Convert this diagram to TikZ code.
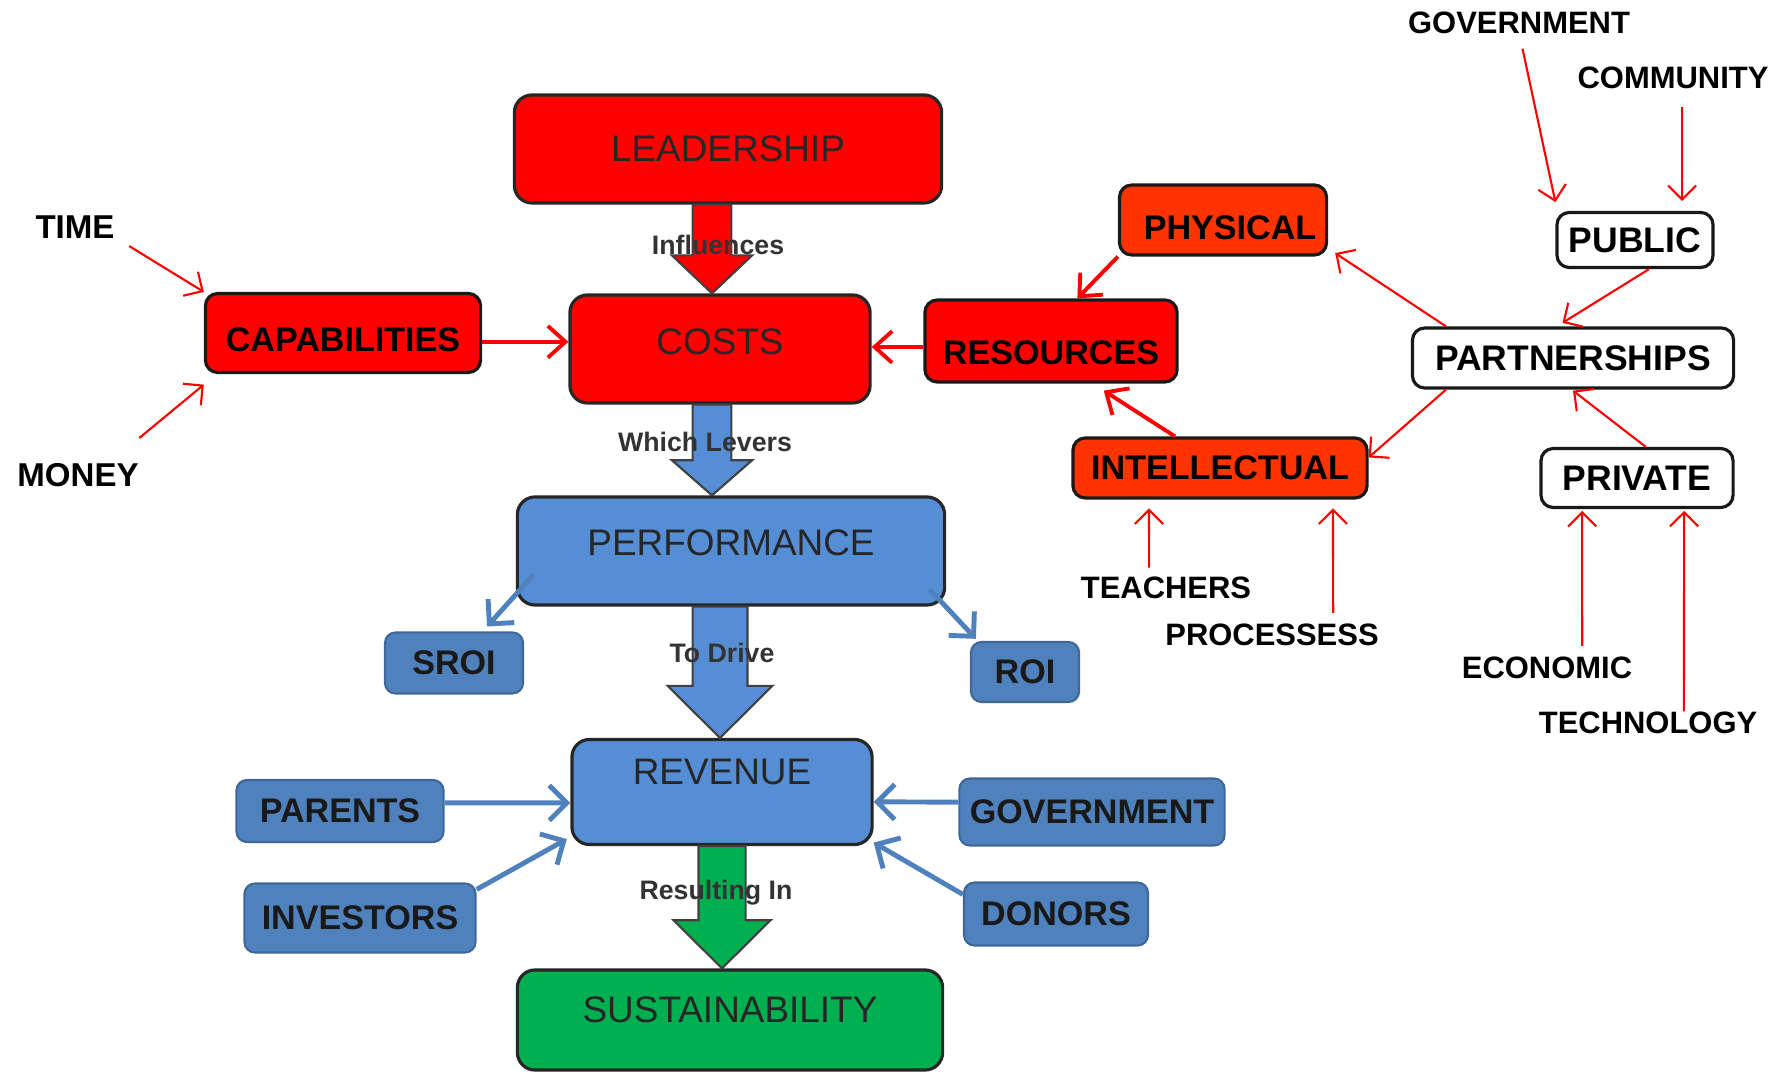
\documentclass[tikz,border=0pt]{standalone}
\usepackage{fontspec}
\setmainfont{Liberation Sans}
\usetikzlibrary{arrows.meta,calc}

\definecolor{capred}{HTML}{FF0000}
\definecolor{resorange}{HTML}{FF3300}
\definecolor{perfblue}{HTML}{558ED5}
\definecolor{leverblue}{HTML}{4F81BD}
\definecolor{sustgreen}{HTML}{00B050}

\begin{document}
\begin{tikzpicture}[%
		x=0.01cm, y=-0.01cm,
		mainbox/.style={draw=black!85, line width=0.9pt, rounded corners=5pt, text=black!85,
			font=\fontsize{10.5}{12}\selectfont, inner sep=0pt},
		subbox/.style={draw=black!90, line width=0.9pt, rounded corners=3.5pt,
			font=\bfseries\fontsize{9.7}{11}\selectfont, inner sep=0pt},
		partbox/.style={subbox, fill=white, font=\bfseries\fontsize{10.1}{12}\selectfont},
		leverbox/.style={draw=leverblue!80!black, line width=0.6pt, fill=leverblue, rounded corners=3pt,
			font=\bfseries\fontsize{9.7}{11}\selectfont, inner sep=0pt, text=black!90},
		factor/.style={font=\bfseries\fontsize{8.8}{10}\selectfont, inner sep=0pt},
		linklabel/.style={font=\bfseries\fontsize{7.6}{9}\selectfont, text=black!80, inner sep=0pt},
		redlink/.style={draw=capred, line width=0.6pt, -{Straight Barb[length=4pt,width=8pt]}},
		thickred/.style={redlink, line width=1.1pt, -{Straight Barb[length=5pt,width=9pt]}},
		bluelink/.style={draw=leverblue, line width=1.4pt, -{Straight Barb[length=5pt,width=10pt]}},
		blockarrow/.style n args={3}{draw=black!75, line width=0.6pt,
			to path={let \p1=(\tikztostart), \p2=(\tikztotarget) in
				(\x1-#1,\y1) -- (\x1-#1,\y2+#3) -- (\x1-#2,\y2+#3) -- (\x2,\y2)
				-- (\x1+#2,\y2+#3) -- (\x1+#1,\y2+#3) -- (\x1+#1,\y1) -- cycle}}]
		\useasboundingbox (0,0) rectangle (1789,1074);

		\node[mainbox, fill=capred, minimum width=4.27cm, minimum height=1.08cm] (lead) at (728,149) {LEADERSHIP};
		\node[mainbox, fill=capred, minimum width=3.00cm, minimum height=1.08cm, text depth=4pt] (costs) at (720,349) {COSTS};
		\node[mainbox, fill=perfblue, minimum width=4.27cm, minimum height=1.08cm, text depth=5pt] (perf) at (731,551) {PERFORMANCE};
		\node[mainbox, fill=perfblue, minimum width=3.00cm, minimum height=1.05cm, text depth=11.4pt] (rev) at (722,792) {REVENUE};
		\node[mainbox, fill=sustgreen, minimum width=4.25cm, minimum height=1.00cm, text depth=5.7pt] (sust) at (730,1020) {SUSTAINABILITY};

		\node[subbox, fill=capred, minimum width=2.75cm, minimum height=0.79cm, text height=10.4pt] (cap) at (343,333) {CAPABILITIES};
		\node[subbox, fill=capred, minimum width=2.52cm, minimum height=0.82cm, text height=13.2pt] (res) at (1051,341) {RESOURCES};
		\node[subbox, fill=resorange, minimum width=2.07cm, minimum height=0.70cm, text height=11pt] (phys) at (1223,220) {\hspace{4pt}PHYSICAL};
		\node[subbox, fill=resorange, minimum width=2.94cm, minimum height=0.60cm] (intel) at (1220,468) {INTELLECTUAL};

		\node[partbox, minimum width=1.56cm, minimum height=0.55cm] (pub) at (1635,240) {PUBLIC};
		\node[partbox, minimum width=3.21cm, minimum height=0.60cm] (part) at (1573,358) {PARTNERSHIPS};
		\node[partbox, minimum width=1.92cm, minimum height=0.59cm] (priv) at (1637,478) {PRIVATE};

		\node[leverbox, minimum width=1.38cm, minimum height=0.61cm] (sroi) at (454,663) {SROI};
		\node[leverbox, minimum width=1.08cm, minimum height=0.60cm] (roi) at (1025,672) {ROI};
		\node[leverbox, minimum width=2.07cm, minimum height=0.62cm] (par) at (340,811) {PARENTS};
		\node[leverbox, minimum width=2.31cm, minimum height=0.69cm] (inv) at (360,918) {INVESTORS};
		\node[leverbox, minimum width=2.65cm, minimum height=0.67cm] (gov) at (1092,812) {GOVERNMENT};
		\node[leverbox, minimum width=1.84cm, minimum height=0.63cm] (don) at (1056,914) {DONORS};

		\node[factor, font=\bfseries\fontsize{9.4}{11}\selectfont] (time) at (75,227) {TIME};
		\node[factor, font=\bfseries\fontsize{9.4}{11}\selectfont] (money) at (78,475) {MONEY};
		\node[factor] (govt) at (1519,23) {GOVERNMENT};
		\node[factor] (comm) at (1673,78) {COMMUNITY};
		\node[factor] (teach) at (1166,588) {TEACHERS};
		\node[factor] (proc) at (1272,635) {PROCESSESS};
		\node[factor] (econ) at (1547,668) {ECONOMIC};
		\node[factor] (tech) at (1648,723) {TECHNOLOGY};

		\draw[blockarrow={5.5pt}{11.4pt}{10.8pt}, fill=capred] (lead.south -| 712,0) to (costs.north -| 712,0);
		\draw[blockarrow={5.5pt}{11.4pt}{10pt}, fill=perfblue] (costs.south -| 712,0) to (perf.north -| 712,0);
		\draw[blockarrow={7.8pt}{14.9pt}{14.8pt}, fill=perfblue] (perf.south -| 720,0) to (rev.north -| 720,0);
		\draw[blockarrow={6.7pt}{13.8pt}{13.7pt}, fill=sustgreen] (rev.south -| 722,0) to (sust.north -| 722,0);

		\node[linklabel] (linfl) at (718,245) {Influences};
		\node[linklabel] (llev) at (705,442) {Which Levers};
		\node[linklabel] (ldrive) at (722,653) {To Drive};
		\node[linklabel] (lresult) at (716,893) {Resulting In};

		\draw[redlink] ([xshift=4pt,yshift=-2pt]time.south east) -- (cap.north west);
		\draw[redlink] ([yshift=7pt]money.north east) -- ([yshift=-3pt]cap.south west);
		\draw[thickred] ([yshift=-2.5pt]cap.east) -- ([yshift=-2.5pt]cap.east -| costs.west);
		\draw[thickred] ([yshift=-1.7pt]res.west) -- ([yshift=-1.7pt]res.west -| costs.east);
		\draw[thickred] (phys.south west) -- ([xshift=7.5pt]res.north);
		\draw[thickred] ([xshift=-12.8pt]intel.north) -- ([xshift=15pt,yshift=-2pt]res.south);
		\draw[redlink] ([xshift=10pt]part.north west) -- ([xshift=2pt,yshift=1pt]phys.south east);
		\draw[redlink] ([xshift=10pt]part.south west) -- ([yshift=3pt]intel.east);
		\draw[redlink] ([xshift=4pt]pub.south) -- ([xshift=-3pt,yshift=1pt]part.north);
		\draw[redlink] ([xshift=2.5pt]priv.north) -- ([yshift=-0.3pt]part.south);
		\draw[redlink] ([xshift=1pt,yshift=-4pt]govt.south) -- ([yshift=2.5pt]pub.north west);
		\draw[redlink] ([xshift=2.6pt,yshift=-5pt]comm.south) -- ([xshift=13.4pt,yshift=2.8pt]pub.north);
		\draw[redlink] ([xshift=10pt,yshift=3pt]econ.north) -- ([xshift=-15.6pt,yshift=-0.5pt]priv.south);
		\draw[redlink] ([xshift=10.2pt,yshift=0pt]tech.north) -- ([xshift=13.4pt,yshift=-0.5pt]priv.south);
		\draw[redlink] ([xshift=-4.8pt,yshift=2.5pt]teach.north) -- ([xshift=-20.2pt,yshift=-2.5pt]intel.south);
		\draw[redlink] ([xshift=17.4pt,yshift=3pt]proc.north) -- ([xshift=32.1pt,yshift=-2.5pt]intel.south);

		\draw[bluelink] ([xshift=5pt,yshift=9pt]perf.south west) -- ([xshift=9.4pt,yshift=1.4pt]sroi.north);
		\draw[bluelink] ([xshift=-4.8pt,yshift=5pt]perf.south east) -- ([xshift=1.7pt,yshift=0.6pt]roi.north west);
		\draw[bluelink] ([yshift=2.3pt]par.east) -- ([yshift=-3.1pt]rev.west);
		\draw[bluelink] ([yshift=2.8pt]gov.west) -- ([yshift=-2.8pt]rev.east);
		\draw[bluelink] ([yshift=-2pt]inv.north east) -- ([xshift=-1pt,yshift=2pt]rev.south west);
		\draw[bluelink] ([yshift=-3.7pt]don.north west) -- ([yshift=1pt]rev.south east);
\end{tikzpicture}
\end{document}
